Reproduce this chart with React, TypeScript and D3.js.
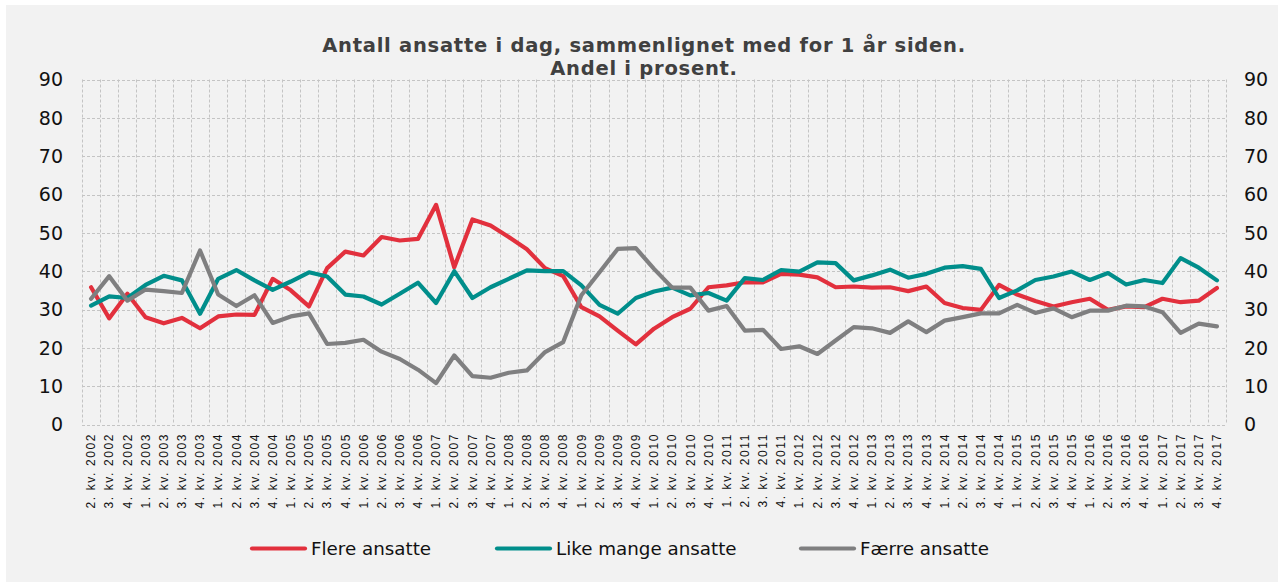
import React from 'react'
import * as d3 from 'd3'

// kvartaler fra 2. kv. 2002 til 4. kv. 2017
const years = d3.range(2002, 2018)
const quarters = years.flatMap(y => [1, 2, 3, 4].map(q => q + '. kv. ' + y)).slice(1)

const flere = [35.8, 27.7, 34.1, 28.0, 26.4, 27.8, 25.1, 28.2, 28.7, 28.6,
  38.0, 35.0, 30.8, 40.8, 45.1, 44.1, 48.9, 48.0, 48.4, 57.3,
  41.0, 53.5, 51.9, 48.9, 45.7, 40.8, 38.7, 30.6, 28.2, 24.5,
  20.9, 25.0, 28.0, 30.2, 35.8, 36.3, 37.1, 37.1, 39.3, 39.1,
  38.4, 35.8, 36.0, 35.7, 35.8, 34.8, 36.0, 31.7, 30.4, 29.9,
  36.4, 33.9, 32.2, 30.8, 31.9, 32.8, 29.9, 30.8, 30.6, 32.8,
  31.9, 32.3, 35.6]

const likeMange = [31.0, 33.4, 33.0, 36.4, 38.8, 37.6, 28.9, 38.0, 40.3, 37.6,
  35.1, 37.3, 39.7, 38.6, 33.9, 33.4, 31.3, 34.1, 37.0, 31.7,
  40.0, 33.0, 35.8, 38.0, 40.2, 40.0, 40.0, 36.3, 31.2, 28.9,
  33.0, 34.7, 35.7, 33.7, 34.3, 32.3, 38.2, 37.7, 40.3, 39.9,
  42.3, 42.1, 37.6, 38.9, 40.4, 38.3, 39.3, 40.9, 41.3, 40.6,
  33.0, 35.0, 37.7, 38.6, 39.9, 37.7, 39.5, 36.5, 37.7, 36.9,
  43.4, 40.9, 37.6]

const faerre = [32.8, 38.7, 32.3, 35.2, 34.8, 34.3, 45.4, 33.9, 30.9, 33.7,
  26.5, 28.2, 29.0, 21.0, 21.3, 22.1, 19.0, 17.1, 14.3, 10.8,
  18.0, 12.6, 12.2, 13.5, 14.1, 18.9, 21.5, 33.7, 39.7, 45.8,
  46.0, 40.6, 35.7, 35.7, 29.7, 30.9, 24.5, 24.7, 19.7, 20.4,
  18.4, 21.9, 25.4, 25.1, 23.9, 26.9, 24.1, 27.1, 28.0, 29.0,
  29.0, 31.2, 29.1, 30.3, 28.0, 29.7, 29.7, 31.0, 30.8, 29.3,
  23.9, 26.3, 25.6]

const yTicks = [0, 10, 20, 30, 40, 50, 60, 70, 80, 90]

const series = [
  { name: 'Flere ansatte', values: flere, color: '#e2303d' },
  { name: 'Like mange ansatte', values: likeMange, color: '#008e8b' },
  { name: 'Færre ansatte', values: faerre, color: '#7f7f80' },
]
const legendX = [252, 497, 801]

const W = 1282, H = 587
const left = 82, right = 1226, top = 79.5, bottom = 424.5
const font = '"DejaVu Sans", Verdana, sans-serif'

export default function App() {
  const x = d3.scaleBand<string>().domain(quarters).range([left, right])
  const y = d3.scaleLinear().domain([0, 90]).range([bottom, top])
  const line = d3.line<number>()
    .x((d, i) => x(quarters[i])! + x.bandwidth() / 2)
    .y(d => y(d))

  const vlines = quarters.map(q => x(q)!).concat([right])

  return (
    <svg width={W} height={H} style={{ position: 'absolute', left: 0, top: 0, display: 'block' }}>
      <rect x={0} y={0} width={W} height={H} fill="#fff" />
      <rect x={6} y={5} width={1272} height={577} fill="#f2f2f2" />

      <text x={644} y={52} textAnchor="middle" fontFamily={font} fontWeight="bold"
        fontSize={19.5} letterSpacing={0.75} fill="#404040">Antall ansatte i dag, sammenlignet med for 1 år siden.</text>
      <text x={644} y={75} textAnchor="middle" fontFamily={font} fontWeight="bold"
        fontSize={19.5} letterSpacing={0.75} fill="#404040">Andel i prosent.</text>

      <g stroke="#c4c4c4" strokeWidth={1} strokeDasharray="3,2" fill="none">
        {yTicks.map(t => (
          <line key={'h' + t} x1={left} x2={right} y1={Math.round(y(t)) + 0.5} y2={Math.round(y(t)) + 0.5} />
        ))}
        {vlines.map((v, i) => (
          <line key={'v' + i} x1={Math.round(v) + 0.5} x2={Math.round(v) + 0.5} y1={top} y2={bottom} />
        ))}
      </g>

      {yTicks.map(t => (
        <g key={'yl' + t} fontFamily={font} fontSize={19} fill="#111">
          <text x={63} y={y(t)} dy="0.36em" textAnchor="end">{t}</text>
          <text x={1244} y={y(t)} dy="0.36em" textAnchor="start">{t}</text>
        </g>
      ))}

      {quarters.map(q => {
        const cx = x(q)! + x.bandwidth() / 2
        return (
          <text key={q} transform={`translate(${cx},433) rotate(-90)`} textAnchor="end" dy="0.35em"
            fontFamily='"Liberation Sans", Arial, sans-serif' fontSize={12} letterSpacing={1.6} fill="#111">{q}</text>
        )
      })}

      {series.map(s => (
        <path key={s.name} d={line(s.values)!} fill="none" stroke={s.color} strokeWidth={4.2}
          strokeLinejoin="round" strokeLinecap="round" />
      ))}

      {series.map((s, i) => (
        <g key={'lg' + i}>
          <line x1={legendX[i]} x2={legendX[i] + 53} y1={548.5} y2={548.5} stroke={s.color}
            strokeWidth={4.2} strokeLinecap="round" />
          <text x={legendX[i] + 59} y={555} fontFamily={font} fontSize={18.3} fill="#111">{s.name}</text>
        </g>
      ))}
    </svg>
  )
}
